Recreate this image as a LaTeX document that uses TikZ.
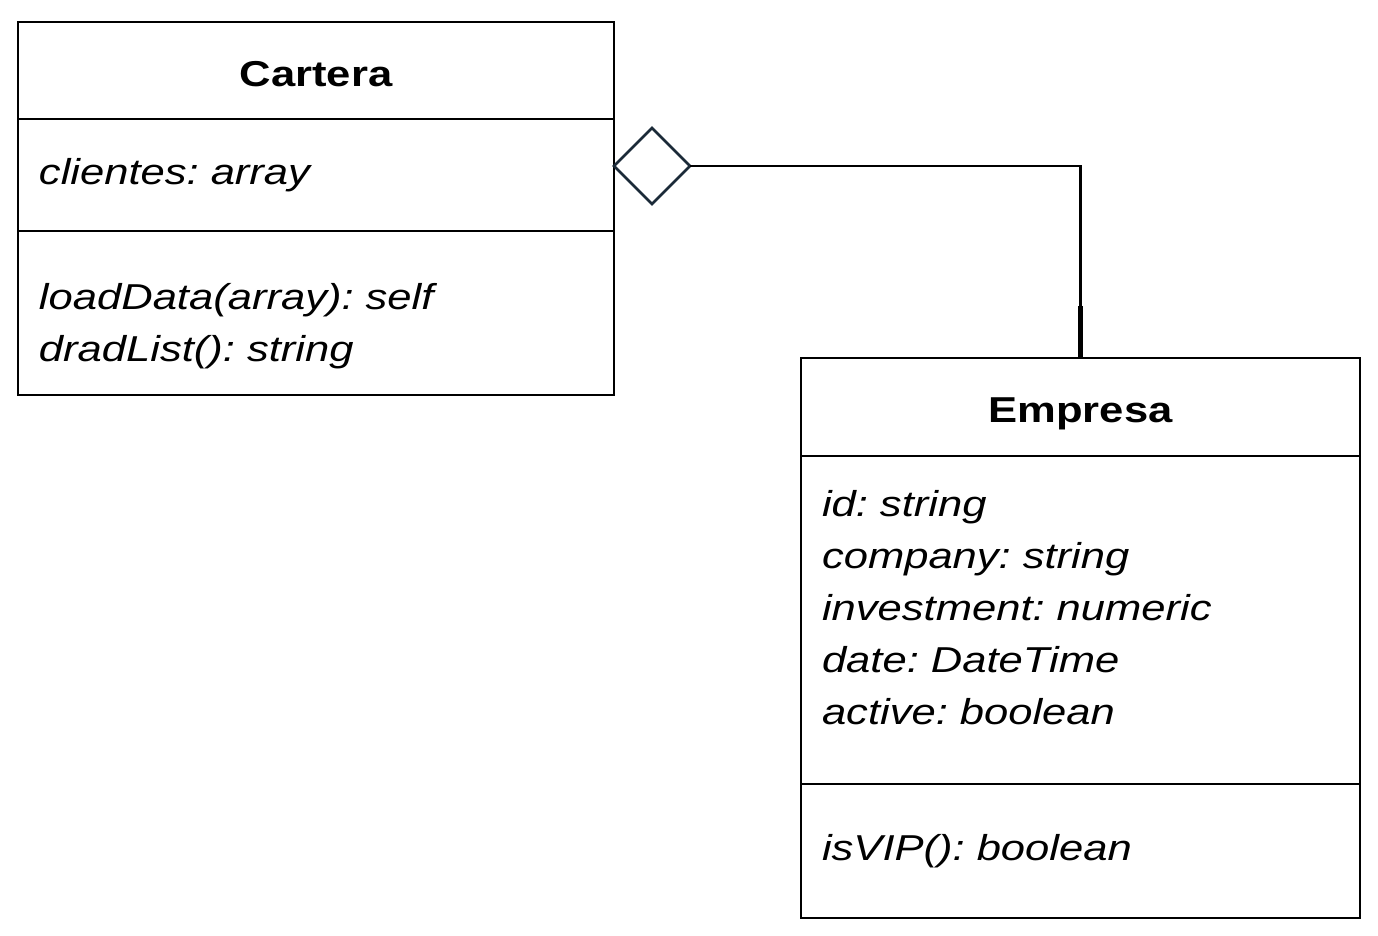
\documentclass[tikz,border=0pt]{standalone}
\usepackage{fontspec}
\setmainfont{Liberation Sans}[FakeStretch=1.21]
\usetikzlibrary{positioning, shapes.geometric, calc}

\definecolor{aggnavy}{HTML}{1B2A38}
\frenchspacing

\tikzset{
  umlbox/.style={draw, line width=1.2pt, outer sep=0pt, inner xsep=10.5pt,
    font=\fontsize{18}{26}\selectfont, align=left},
  umltitle/.style={umlbox, font=\fontsize{18}{26}\selectfont\bfseries, align=center,
    text height=16pt, text depth=0pt},
  aggdiamond/.style={diamond, draw=aggnavy, line width=1.3pt, fill=white,
    minimum size=38pt, inner sep=0pt, outer sep=0pt, anchor=west}
}

\begin{document}
\begin{tikzpicture}[x=0.5pt, y=-0.5pt]
  \useasboundingbox (0,0) rectangle (1378,936);

  % Cartera class
  \node[umltitle, anchor=north west, minimum width=298pt, minimum height=48.5pt] (cartera) at (18,22) {Cartera};
  \node[umlbox, below=0pt of cartera, minimum width=298pt, minimum height=56pt,
        text width=277pt] (cartera-attr) {\itshape clientes: array};
  \node[umlbox, below=0pt of cartera-attr, minimum width=298pt, minimum height=82pt,
        text width=277pt] (cartera-ops) {\rule{0pt}{26pt}\itshape loadData(array): self\\ dradList(): string};

  % Empresa class
  \node[umltitle, anchor=north west, minimum width=279.5pt, minimum height=49pt] (empresa) at (801,358) {Empresa};
  \node[umlbox, below=0pt of empresa, minimum width=279.5pt, minimum height=164pt,
        text width=258.5pt] (empresa-attr) {\itshape id: string\\ company: string\\
        investment: numeric\\ date: DateTime\\ active: boolean\rule[-13pt]{0pt}{13pt}};
  \node[umlbox, below=0pt of empresa-attr, minimum width=279.5pt, minimum height=67pt,
        text width=258.5pt] (empresa-ops) {\itshape isVIP(): boolean};

  % aggregation
  \node[aggdiamond] (agg) at (614,166) {};
  \coordinate (tip) at ($(empresa.north)+(0,-52)$);
  \draw[line width=1.2pt] (agg.east) -| (tip);
  \draw[line width=2.2pt] (tip) -- (empresa.north);
\end{tikzpicture}
\end{document}
